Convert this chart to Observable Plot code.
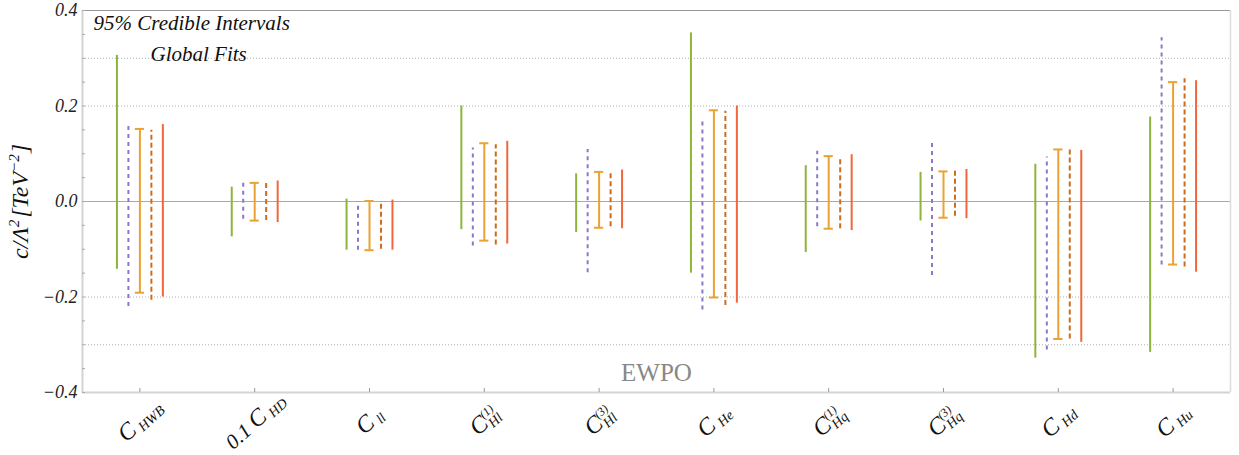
<!DOCTYPE html>
<html><head><meta charset="utf-8">
<script src="https://cdn.jsdelivr.net/npm/d3@7"></script>
<script src="https://cdn.jsdelivr.net/npm/@observablehq/plot@0.6"></script>
<style>body{margin:0;background:#fff}</style>
</head><body><div id="chart"></div>
<script>
// Categories (Wilson coefficients) and their tick-label parts
const categories = ["HWB","HD","ll","Hl1","Hl3","He","Hq1","Hq3","Hd","Hu"];
const labelPrefix = ["","0.1 ","","","","","","","",""];
const labelSup    = ["","","","(1)","(3)","","(1)","(3)","",""];
const labelSub    = ["HWB","HD","ll","Hl","Hl","He","Hq","Hq","Hd","Hu"];

// Five fits: lower / upper ends of the 95% credible intervals
const greenLow   = [-0.142,-0.074,-0.102,-0.059,-0.065,-0.150,-0.107,-0.041,-0.328,-0.316];
const greenHigh  = [ 0.306, 0.030, 0.005, 0.200, 0.058, 0.353, 0.075, 0.061, 0.078, 0.177];
const purpleLow  = [-0.220,-0.037,-0.102,-0.093,-0.149,-0.227,-0.053,-0.155,-0.311,-0.133];
const purpleHigh = [ 0.159, 0.043,-0.001, 0.112, 0.109, 0.174, 0.105, 0.125, 0.093, 0.343];
const orangeLow  = [-0.191,-0.040,-0.102,-0.082,-0.055,-0.201,-0.057,-0.034,-0.288,-0.132];
const orangeHigh = [ 0.152, 0.039, 0.001, 0.122, 0.062, 0.191, 0.095, 0.063, 0.109, 0.250];
const brownLow   = [-0.207,-0.040,-0.100,-0.091,-0.053,-0.218,-0.057,-0.031,-0.288,-0.137];
const brownHigh  = [ 0.149, 0.042,-0.001, 0.119, 0.063, 0.189, 0.089, 0.064, 0.109, 0.257];
const redLow     = [-0.200,-0.044,-0.102,-0.089,-0.057,-0.213,-0.061,-0.036,-0.295,-0.148];
const redHigh    = [ 0.161, 0.043, 0.003, 0.126, 0.066, 0.200, 0.098, 0.067, 0.107, 0.253];

// Axis ticks and reference lines
const yMajorTicks = [-0.4,-0.2,0,0.2,0.4];
const yMinorTicks = [-0.4,-0.35,-0.3,-0.25,-0.2,-0.15,-0.1,-0.05,0,0.05,0.1,0.15,0.2,0.25,0.3,0.35,0.4];
const gridLines = [-0.3,-0.2,0.2,0.3];
const titleLines = ["95% Credible Intervals","Global Fits"];
const bandLabel = ["EWPO"];
const yLabel = ["c/Λ2[TeV−2]"];

const FONT = "'Liberation Serif', 'DejaVu Serif', serif";

const series = [
  {low: greenLow,  high: greenHigh,  color:"#8db53c", dash:null},
  {low: purpleLow, high: purpleHigh, color:"#8a78c6", dash:"4,4"},
  {low: orangeLow, high: orangeHigh, color:"#eba133", dash:null, caps:true},
  {low: brownLow,  high: brownHigh,  color:"#cf6c1c", dash:"5,3"},
  {low: redLow,    high: redHigh,    color:"#f1673d", dash:null}
];
const rowsFor = (s) => categories.map((c,i) => ({i, cat:c, lo:s.low[i], hi:s.high[i]}));
const labelText = categories.map((c,i) => labelPrefix[i] + "C" + labelSup[i] + " " + labelSub[i]);

const intervalMarks = [];
series.forEach((s, k) => {
  const off = (k - 2) * 0.1;
  const rows = rowsFor(s);
  intervalMarks.push(Plot.ruleX(rows, {x: d => d.i + off, y1:"lo", y2:"hi", stroke:s.color, strokeWidth:2, strokeDasharray:s.dash}));
  if (s.caps) {
    intervalMarks.push(Plot.ruleY(rows, {y:"lo", x1: d => d.i + off - 0.04, x2: d => d.i + off + 0.04, stroke:s.color, strokeWidth:2}));
    intervalMarks.push(Plot.ruleY(rows, {y:"hi", x1: d => d.i + off - 0.04, x2: d => d.i + off + 0.04, stroke:s.color, strokeWidth:2}));
  }
});

const chart = Plot.plot({
  width:1239, height:455,
  marginLeft:82, marginRight:9, marginTop:10, marginBottom:63,
  x:{domain:[-0.5, 9.5], axis:null},
  y:{domain:[-0.4, 0.4], axis:null},
  style:{fontFamily:FONT, background:"white", color:"#222"},
  marks:[
    Plot.ruleY(gridLines, {stroke:"#b0b0b0", strokeDasharray:"1,2"}),
    Plot.ruleY([0], {stroke:"#aaa"}),
    Plot.ruleY([0.4], {stroke:"#999"}),
    Plot.ruleY([-0.4], {stroke:"#d4d4d4", strokeWidth:2}),
    Plot.ruleX([-0.5], {stroke:"#d4d4d4", strokeWidth:2}),
    Plot.ruleX([9.5], {stroke:"#dcdcdc", strokeWidth:1.5}),
    Plot.axisY(yMinorTicks, {tickSize:-3, tickFormat:() => "", stroke:"#aaa", label:null}),
    Plot.axisY(yMajorTicks, {tickSize:0, tickPadding:5, fontSize:18, fontStyle:"italic", fontFamily:FONT, fill:"#222",
      tickFormat: d => d.toFixed(1).replace("-", "\u2212"), label:null}),
    Plot.axisX(d3.range(categories.length), {tickSize:-4, tickFormat:() => "", stroke:"#999", label:null}),
    ...intervalMarks,
    Plot.text([titleLines[0]], {frameAnchor:"top-left", dx:11, dy:19, lineAnchor:"bottom", fontSize:21, fontStyle:"italic", fontFamily:FONT, fill:"#111"}),
    Plot.text([titleLines[1]], {frameAnchor:"top-left", dx:68, dy:50, lineAnchor:"bottom", fontSize:21, fontStyle:"italic", fontFamily:FONT, fill:"#111"}),
    Plot.text(bandLabel, {frameAnchor:"bottom", dy:-12, lineAnchor:"bottom", fontSize:25, fontFamily:FONT, fill:"#888"}),
    Plot.text(yLabel, {frameAnchor:"left", dx:-62, rotate:-90, textAnchor:"middle", lineAnchor:"middle", fontSize:24, fontStyle:"italic", fontFamily:FONT, fill:"#111"}),
    Plot.text(categories, {x:(d,i) => i, text:(d,i) => labelText[i], frameAnchor:"bottom", dy:28, rotate:-42,
      textAnchor:"middle", lineAnchor:"middle", fontSize:24, fontStyle:"italic", fontFamily:FONT, fill:"#111"})
  ]
});
document.getElementById("chart").appendChild(chart);

const svgNS = "http://www.w3.org/2000/svg";
function span(parent, txt, attrs) {
  const s = document.createElementNS(svgNS, "tspan");
  s.textContent = txt;
  for (const k in attrs) s.setAttribute(k, attrs[k]);
  parent.appendChild(s);
  return s;
}
chart.querySelectorAll("text").forEach(t => {
  // y-axis label with real superscripts
  if (t.textContent === yLabel[0]) {
    while (t.firstChild) t.removeChild(t.firstChild);
    span(t, "c/Λ", {});
    span(t, "2", {"font-size":"15", dy:"-9"});
    span(t, "[TeV", {dy:"9", dx:"2"});
    span(t, "−2", {"font-size":"15", dy:"-9"});
    span(t, "]", {dy:"9", dx:"1"});
    return;
  }
  // x tick labels with sub/superscripts
  const idx = labelText.indexOf(t.textContent);
  if (idx < 0) return;
  while (t.firstChild) t.removeChild(t.firstChild);
  if (labelPrefix[idx]) span(t, labelPrefix[idx], {"font-size":"21"});
  span(t, "C", {});
  let supLen = 0;
  if (labelSup[idx]) {
    const sup = span(t, labelSup[idx], {"font-size":"12", dy:"-9", dx:"0"});
    supLen = sup.getComputedTextLength();
    span(t, labelSub[idx], {"font-size":"14", dx:String(-supLen + 1), dy:"13"});
  } else {
    span(t, labelSub[idx], {"font-size":"14", dx:"4", dy:"3"});
  }
});
</script>
</body></html>
